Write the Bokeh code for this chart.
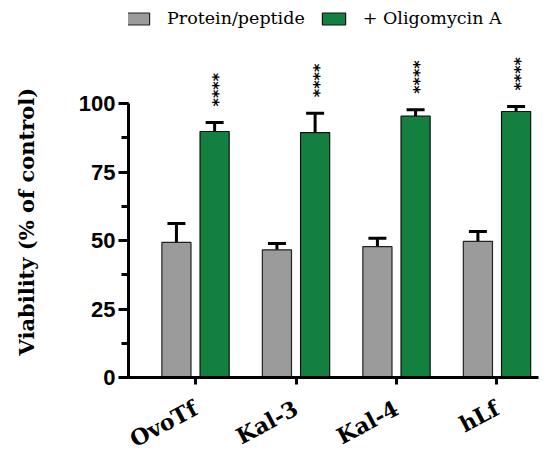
import math
from bokeh.plotting import figure
from bokeh.models import (Range1d, FixedTicker, SingleIntervalTicker, Whisker, TeeHead,
                          ColumnDataSource, Legend, LegendItem, Title)
from bokeh.core.properties import value
from bokeh.embed import file_html
from bokeh.resources import INLINE

categories = ["OvoTf", "Kal-3", "Kal-4", "hLf"]
protein_mean = [49.3, 46.6, 47.8, 49.7]
protein_err = [6.9, 2.3, 3.0, 3.6]
oligo_mean = [89.8, 89.4, 95.4, 97.1]
oligo_err = [3.3, 7.1, 2.3, 1.8]
signif = ["****", "****", "****", "****"]
y_ticks = [0, 25, 50, 75, 100]

GREY = "#9b9b9b"
GREEN = "#138040"
OFF = 0.19
BW = 0.29

xs = list(range(len(categories)))
x_grey = [x - OFF for x in xs]
x_green = [x + OFF for x in xs]

p = figure(frame_width=410, frame_height=369, output_backend="svg", toolbar_location=None,
           x_range=Range1d(-0.667, 3.413), y_range=Range1d(0, 134.7),
           min_border_left=128, min_border_right=4, min_border_top=8, min_border_bottom=60)
p.outline_line_color = None
p.xgrid.visible = False
p.ygrid.visible = False
p.background_fill_color = "white"

src_g = ColumnDataSource(dict(x=x_grey, top=protein_mean,
                              up=[m + e for m, e in zip(protein_mean, protein_err)]))
src_o = ColumnDataSource(dict(x=x_green, top=oligo_mean,
                              up=[m + e for m, e in zip(oligo_mean, oligo_err)], s=signif))

for src in (src_g, src_o):
    w = Whisker(source=src, base="x", lower="top", upper="up", dimension="height",
                line_color="black", line_width=3,
                upper_head=TeeHead(size=18, line_width=3, line_color="black"),
                lower_head=None)
    p.add_layout(w)

r_g = p.vbar(x="x", top="top", width=BW, source=src_g, fill_color=GREY,
             line_color="#222222", line_width=1.2)
r_o = p.vbar(x="x", top="top", width=BW, source=src_o, fill_color=GREEN,
             line_color="#111111", line_width=1.2)

p.text(x="x", y="up", text="s", source=src_o, angle=math.pi / 2,
       text_align="left", text_baseline="middle", y_offset=-16, x_offset=4,
       text_font=value("DejaVu Sans"), text_font_size="16px", text_font_style="bold",
       text_color="black")

# axes
xa = p.xaxis[0]
xa.ticker = FixedTicker(ticks=xs)
xa.major_label_overrides = {i: c for i, c in enumerate(categories)}
xa.major_label_orientation = 0.49
xa.major_label_text_font = "DejaVu Serif"
xa.major_label_text_font_style = "bold"
xa.major_label_text_font_size = "22px"
xa.major_label_text_color = "black"
xa.major_label_standoff = 22
xa.axis_line_width = 3
xa.axis_line_color = "black"
xa.major_tick_line_width = 3
xa.major_tick_line_color = "black"
xa.major_tick_out = 7
xa.major_tick_in = 0
xa.minor_tick_line_color = None

ya = p.yaxis[0]
ya.ticker = SingleIntervalTicker(interval=25, num_minor_ticks=2)
ya.bounds = (y_ticks[0], y_ticks[-1])
ya.major_label_text_font = "Liberation Sans"
ya.major_label_text_font_style = "bold"
ya.major_label_text_font_size = "22px"
ya.major_label_text_color = "black"
ya.major_label_standoff = 3
ya.axis_line_width = 3
ya.axis_line_color = "black"
ya.major_tick_line_width = 3
ya.major_tick_line_color = "black"
ya.major_tick_out = 10
ya.major_tick_in = 0
ya.minor_tick_line_width = 3
ya.minor_tick_line_color = "black"
ya.minor_tick_out = 7
ya.minor_tick_in = 0
# blank axis label only reserves horizontal room between tick labels and the title
ya.axis_label = " "
ya.axis_label_text_font_size = "10px"
ya.axis_label_standoff = 9

ytitle = Title(text="Viability (% of control)", align="left", offset=22, standoff=24,
               vertical_align="top",
               text_font="DejaVu Serif", text_font_style="bold", text_font_size="21px",
               text_color="black")
p.add_layout(ytitle, "left")

legend = Legend(items=[LegendItem(label="Protein/peptide", renderers=[r_g]),
                       LegendItem(label="+ Oligomycin A", renderers=[r_o])],
                orientation="horizontal", location=(-5, 349),
                padding=0, margin=0, spacing=14, label_standoff=15,
                glyph_width=29, glyph_height=15, label_height=15,
                label_text_font="DejaVu Serif", label_text_font_size="17.5px",
                label_text_color="black",
                border_line_color=None, background_fill_alpha=0)
p.add_layout(legend)

open("out.html", "w").write(file_html(p, INLINE))
